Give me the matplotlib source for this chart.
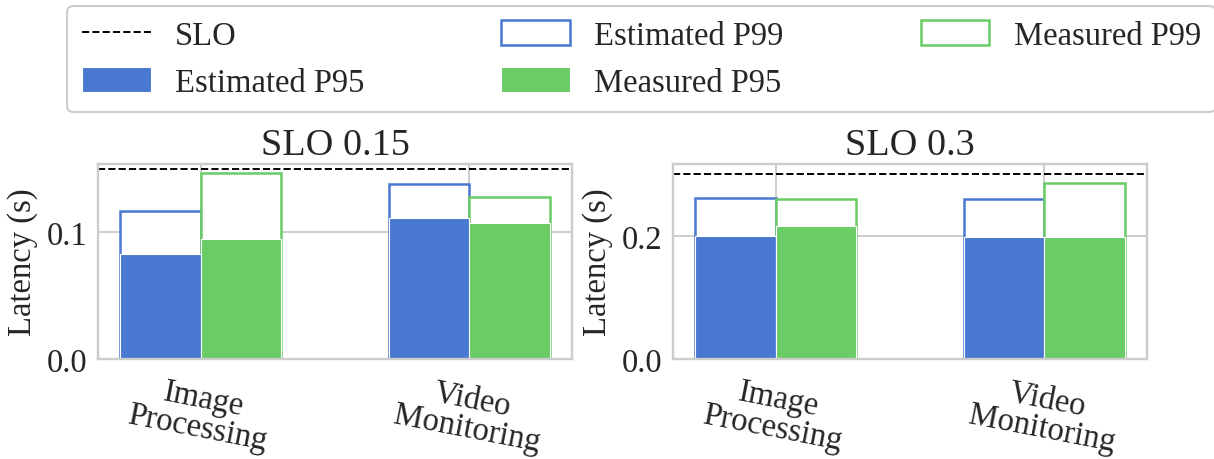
import matplotlib
matplotlib.use("Agg")
import matplotlib.pyplot as plt
from matplotlib.lines import Line2D
from matplotlib.patches import Patch
import numpy as np

# ---- data -------------------------------------------------------------
apps = ["Image\nProcessing", "Video\nMonitoring"]
slo_targets = [0.15, 0.3]
titles = ["SLO 0.15", "SLO 0.3"]

est_p95_slo015 = [0.0826, 0.1113]
est_p99_slo015 = [0.1171, 0.1383]
meas_p95_slo015 = [0.0947, 0.1074]
meas_p99_slo015 = [0.1468, 0.1280]

est_p95_slo03 = [0.2000, 0.1990]
est_p99_slo03 = [0.2620, 0.2600]
meas_p95_slo03 = [0.2157, 0.1978]
meas_p99_slo03 = [0.2600, 0.2857]

yticks_slo015 = [0.0, 0.1]
yticks_slo03 = [0.0, 0.2]
ytop_slo015 = 0.1539
ytop_slo03 = 0.317

# ---- style ------------------------------------------------------------
BLUE = "#4878d0"
GREEN = "#6acc64"
TEXT = "#262626"
LIGHT = "#cccccc"

plt.rcParams.update({
    "font.family": "serif",
    "font.serif": ["Liberation Serif", "DejaVu Serif"],
    "text.color": TEXT,
    "axes.labelcolor": TEXT,
    "xtick.color": TEXT,
    "ytick.color": TEXT,
})

FS = 23.5
W, H = 1214, 460
fig = plt.figure(figsize=(W / 100, H / 100), dpi=100)

panels = [
    (98.3, est_p95_slo015, est_p99_slo015, meas_p95_slo015, meas_p99_slo015,
     yticks_slo015, ytop_slo015),
    (673.3, est_p95_slo03, est_p99_slo03, meas_p95_slo03, meas_p99_slo03,
     yticks_slo03, ytop_slo03),
]

x = np.arange(len(apps))
bw = 0.3
OUT_LW = 1.8

for i, (left_px, e95, e99, m95, m99, yt, ytop) in enumerate(panels):
    ax = fig.add_axes([left_px / W, 100 / H, 473.4 / W, 195 / H])
    ax.set_axisbelow(True)
    ax.grid(True, color=LIGHT, linewidth=1.4)
    for sp in ax.spines.values():
        sp.set_color(LIGHT)
        sp.set_linewidth(1.7)

    # P99 drawn as outlined boxes, P95 filled on top of them
    ax.bar(x - bw / 2, e99, bw, facecolor="white", edgecolor=BLUE, linewidth=OUT_LW)
    ax.bar(x + bw / 2, m99, bw, facecolor="white", edgecolor=GREEN, linewidth=OUT_LW)
    ax.bar(x - bw / 2, e95, bw, color=BLUE, edgecolor="white", linewidth=0.8)
    ax.bar(x + bw / 2, m95, bw, color=GREEN, edgecolor="white", linewidth=0.8)

    ax.axhline(slo_targets[i], color="black", linestyle="--", linewidth=1.4)

    ax.set_xlim(-0.38, 1.38)
    ax.set_ylim(0, ytop)
    ax.set_yticks(yt)
    ax.set_yticklabels([f"{v:.1f}" for v in yt], fontsize=FS)
    ax.set_xticks(x)
    ax.set_xticklabels(apps, fontsize=FS, rotation=-11, ha="center",
                       linespacing=0.95)
    ax.tick_params(axis="both", length=0, pad=8)
    ax.set_ylabel("Latency (s)", fontsize=FS, labelpad=6)
    ax.set_title(titles[i], fontsize=27.5, pad=7)

handles = [
    Line2D([], [], color="black", linestyle="--", linewidth=1.4),
    Patch(facecolor=BLUE, edgecolor="white", linewidth=0.8),
    Patch(facecolor="white", edgecolor=BLUE, linewidth=OUT_LW),
    Patch(facecolor=GREEN, edgecolor="white", linewidth=0.8),
    Patch(facecolor="white", edgecolor=GREEN, linewidth=OUT_LW),
]
labels = ["SLO", "Estimated P95", "Estimated P99", "Measured P95", "Measured P99"]

leg = fig.legend(handles, labels, ncol=3, loc="upper left",
                 bbox_to_anchor=(67.3 / W, 1 - 6.7 / H), borderaxespad=0,
                 fontsize=FS, frameon=True, fancybox=True,
                 handlelength=2.1, handleheight=0.77, handletextpad=0.75,
                 columnspacing=4.2, labelspacing=0.5, borderpad=0.45)
frame = leg.get_frame()
frame.set_edgecolor(LIGHT)
frame.set_linewidth(1.5)
frame.set_alpha(1.0)

fig.savefig("out.png", dpi=100)
